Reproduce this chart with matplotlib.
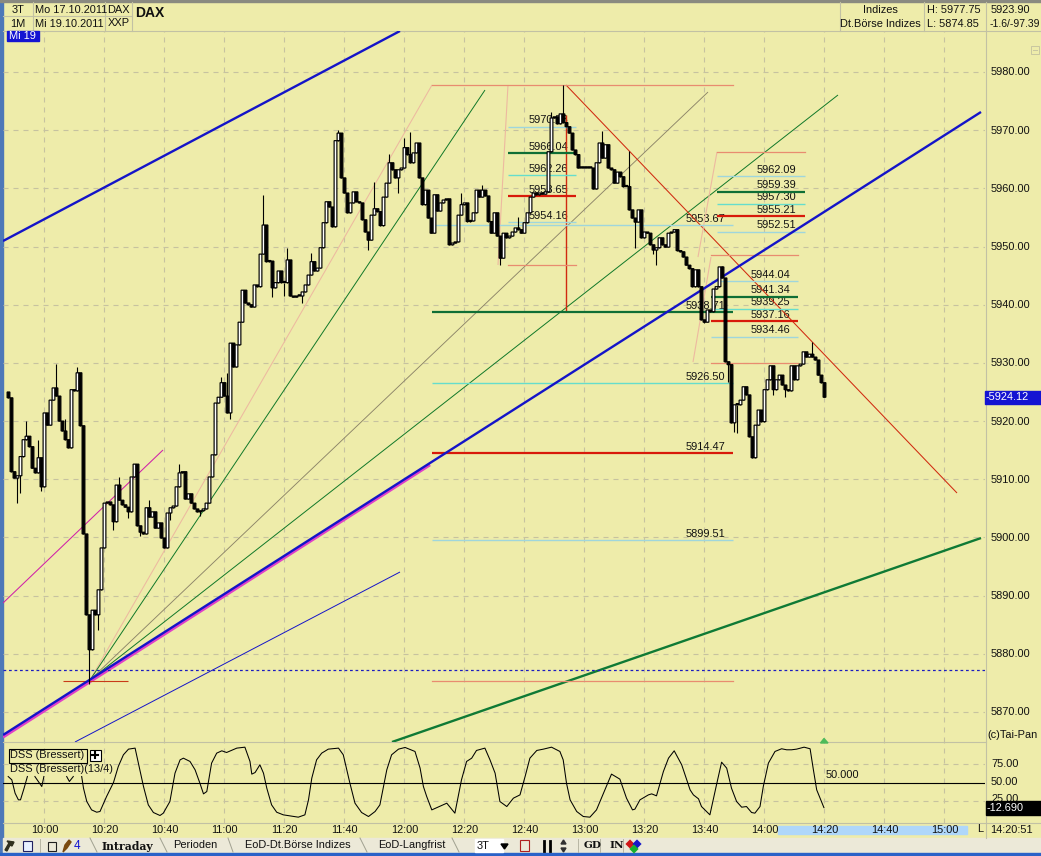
import numpy as np
import matplotlib
matplotlib.use("Agg")
import matplotlib.pyplot as plt
from matplotlib.patches import Rectangle, Polygon

plt.rcParams["font.family"] = ["Liberation Sans", "DejaVu Sans"]

W, H = 1041, 856
BG = "#EEECAA"
GRID = "#C6C2A0"
BAR = "#ECE9D8"

# one minute candles, minutes counted from 10:00, first candle is 09:48
first_minute = -12
first_open = 5925.0
closes = [
  5924.0,5911.3,5910.2,5910.6,5913.9,5916.8,5917.4,5915.6,5911.9,5911.1,
  5913.7,5908.7,5921.4,5919.3,5923.6,5925.7,5924.3,5920.0,5918.3,5916.8,
  5915.4,5925.4,5925.2,5928.3,5919.2,5900.6,5886.7,5880.7,5887.5,5886.7,
  5891.0,5898.2,5905.9,5906.1,5905.6,5902.7,5909.0,5906.4,5905.6,5905.2,
  5904.4,5910.4,5912.6,5902.0,5900.9,5900.6,5905.1,5903.5,5904.4,5901.6,
  5902.5,5899.9,5898.2,5904.2,5905.1,5905.4,5908.7,5911.1,5911.3,5906.6,
  5907.5,5905.9,5904.9,5904.4,5904.6,5904.9,5905.9,5910.4,5914.2,5923.1,
  5924.1,5926.6,5924.3,5921.4,5933.4,5929.3,5933.1,5937.0,5942.5,5940.3,
  5940.0,5939.6,5943.4,5943.1,5948.7,5953.7,5947.4,5947.5,5942.9,5943.8,
  5945.8,5943.8,5943.8,5947.7,5941.5,5941.3,5941.5,5941.5,5942.2,5943.4,
  5945.1,5947.4,5945.8,5946.3,5949.8,5954.1,5957.7,5956.8,5953.4,5968.2,
  5969.5,5961.8,5959.2,5955.8,5957.5,5959.4,5957.7,5957.5,5954.6,5952.5,
  5951.1,5955.4,5956.5,5956.0,5953.6,5958.5,5960.9,5964.4,5963.2,5961.8,
  5963.2,5963.5,5967.0,5965.8,5964.4,5966.1,5967.8,5961.8,5957.2,5959.7,
  5954.9,5952.3,5958.9,5956.1,5957.5,5958.0,5958.2,5950.3,5950.6,5950.8,
  5955.4,5957.2,5957.5,5954.3,5954.4,5955.8,5959.7,5958.5,5959.7,5958.7,
  5954.3,5952.3,5955.8,5951.8,5948.0,5952.3,5951.5,5951.8,5952.5,5953.2,
  5952.9,5952.3,5954.1,5955.8,5958.5,5959.2,5958.9,5959.2,5959.0,5959.4,
  5966.3,5972.1,5972.3,5971.1,5972.8,5971.3,5970.6,5969.5,5966.6,5965.8,
  5963.5,5963.5,5963.5,5963.5,5963.5,5959.9,5964.4,5967.8,5965.2,5967.5,
  5963.5,5963.2,5960.9,5962.8,5962.0,5960.3,5960.3,5956.3,5954.9,5954.2,
  5956.3,5951.5,5952.5,5952.3,5950.3,5949.4,5949.8,5951.5,5950.3,5949.9,
  5952.3,5952.5,5952.9,5949.3,5949.1,5948.2,5946.8,5946.2,5943.1,5946.0,
  5943.1,5937.4,5937.0,5939.1,5938.8,5942.7,5943.1,5946.5,5944.6,5930.2,
  5929.7,5919.7,5922.8,5922.8,5923.6,5925.9,5924.5,5917.3,5913.7,5919.3,
  5921.9,5919.9,5925.4,5927.1,5929.5,5925.4,5927.1,5927.9,5926.2,5925.4,
  5925.2,5929.5,5927.1,5929.5,5929.8,5931.9,5931.0,5931.5,5931.0,5930.5,
  5927.9,5926.6,5924.1,
]
# wicks that stick out of the body, minute -> price
wick_highs = {
  -6:5920.0, -2:5916.8, 4:5929.8, 7:5920.4, 11:5929.3, 25:5910.4, 35:5906.4,
  45:5912.6, 59:5927.6, 61:5928.3, 73:5958.9, 81:5949.8, 89:5948.9, 98:5970.0,
  110:5961.1, 115:5965.9, 120:5968.7, 122:5969.7, 139:5959.2, 146:5960.6,
  158:5955.1, 169:5973.1, 173:5977.75, 186:5969.9, 195:5966.4, 226:5946.7,
  256:5933.6,
}
wick_lows = {
  -9:5905.9, -8:5907.7, -1:5908.0, 15:5874.85, 18:5884.1, 23:5901.3, 28:5903.3,
  32:5900.3, 42:5903.0, 52:5903.7, 62:5920.4, 76:5941.3, 80:5941.5, 86:5940.3,
  108:5949.4, 118:5959.2, 152:5946.8, 197:5949.8, 203:5948.7, 204:5946.8,
  220:5936.9, 228:5926.7, 230:5918.1, 231:5918.0, 243:5924.5, 247:5924.2,
}

# DSS indicator, None = hidden behind the label boxes
dss_minutes = [
  -12.1,-10.9,-9.8,-8.7,-8,-6.8,-5.7,None,-3.2,-0.9,-0.2,None,7.4,8.3,9.6,None,
  12.4,13,14.1,15.7,17.4,18.5,20.7,23,24.6,26.3,28,30.2,31.3,33,34.6,36.3,38.5,
  39.6,41.8,43.5,45.2,46.3,48.5,50.2,51.8,53,54.1,55.7,57.4,59.1,60.7,64.1,66.8,
  68.5,69.1,70.2,71.8,73,74.1,75.7,77.4,79.6,81.8,84.6,86.8,88,89.1,90.7,92.4,
  94.6,98,99.6,101.8,103.5,105.7,108,110.2,111.8,114.1,115.7,118,120.2,123.5,
  125.2,126.3,127.4,129.1,134.1,136.8,139,140.7,142.4,144,146.8,148.5,150.2,
  151.8,154.1,156.3,158.5,160.2,161.8,164.1,166.3,169,171.8,172.9,174,175.2,
  177.4,179.6,181.8,184,186.8,189,191.8,194,196,196.8,198.5,201.3,202.4,204,
  206.3,208,209.9,212.4,215.2,216.3,218,219,221.8,224,225.7,227.4,229,230.7,
  232.4,234,235.7,236.8,238.5,239.6,241.3,243.5,245.7,247.4,249,250.7,253.2,
  255.2,256.3,257.4,259.8,
]
dss_values = [
  58.2,53.7,35.3,26.2,26.2,42.2,58.2,None,58.2,44.5,58.2,None,58.2,51.4,58.2,None,
  58.2,42.2,23.9,12.4,9.2,10.2,30.8,50,72,88,95.8,97.2,76.6,44.5,19.3,8.8,4.7,
  7.9,23.9,62.8,81.1,83.4,78.9,67.4,49.1,34.4,37.6,76.6,90.3,93.5,91.2,97.2,98.5,
  78.9,61.5,63.7,74.3,62.8,42.2,19.3,9.2,5.6,4.2,2.4,5.6,26.2,56,81.1,90.3,
  95.8,97.2,88,49.1,21.6,8.8,3.3,10.2,19.3,67.4,88,95.8,98.1,92.6,
  69.7,44.5,30.8,12.4,21.6,7.9,53.7,78.9,83.4,94,97.2,81.1,62.8,
  23.9,17,28.5,33,58.2,83.4,94,95.8,98.5,92.6,81.1,49.1,26.2,
  10.2,3.3,2.4,12.4,39.9,61.5,54.6,28.5,12.4,13.4,26.2,33,34.4,31.7,
  65.1,83.4,93.5,74.3,39.9,33,27.6,17,5.6,46.8,77.9,69.7,42.2,23.9,
  16.1,17,8.8,7.9,17,44.5,76.6,92.6,96.3,94.9,94.9,95.8,98.5,
  96.3,67.4,39.9,15.6,
]

# trend lines: minute, price, minute, price
top_channel = (-13.83, 5950.95, 118.5, 5987.05)
main_trend = (-13.83, 5866.04, 312.17, 5973.13)
main_trend_under = (-13.83, 5865.7, 128.5, 5912.5)
magenta_line = (-13.83, 5888.73, 39.5, 5915.03)
low_channel = (10.17, 5864.84, 118.5, 5894.06)
green_trend = (115.83, 5864.84, 312.17, 5899.9)
fan_pink = (15.17, 5875.5, 129.17, 5977.77)
fan_green_1 = (15.17, 5875.5, 146.83, 5976.9)
fan_grey = (15.17, 5875.5, 221.17, 5976.56)
fan_green_2 = (15.17, 5875.5, 264.5, 5976.05)
down_trend = (173.83, 5977.77, 304.17, 5907.64)
red_vertical = (173.83, 5972.6, 173.83, 5938.75)
pink_a = (154.5, 5977.77, 151.17, 5946.83)
pink_b = (224.17, 5966.25, 217.83, 5948.2)
pink_c = (222.17, 5948.2, 216.17, 5930.15)
low_mark = (6.17, 5875.4, 28.0, 5875.4)

low_dotted = 5877.3

# retracement levels
long_start, long_end, long_label = 129.17, 229.5, 213.8
long_top = 5977.75
long_bottom = 5875.4
long_levels = [5953.67, 5938.71, 5926.50, 5914.47, 5899.51]
long_kinds = ["blue", "green", "cyan", "red", "blue"]

a_start, a_end, a_label = 154.5, 177.17, 161.2
a_levels = [5970.53, 5966.04, 5962.26, 5958.65, 5954.16]
a_kinds = ["blue", "green", "cyan", "red", "blue"]
a_bottom = 5946.9

b_start, b_end, b_label = 224.17, 253.5, 237.5
b_levels = [5962.09, 5959.39, 5957.30, 5955.21, 5952.51]
b_kinds = ["blue", "green", "cyan", "red", "blue"]
b_top = 5966.25

c_start, c_end, c_label = 222.17, 251.2, 235.2
c_levels = [5944.04, 5941.34, 5939.25, 5937.16, 5934.46]
c_kinds = ["blue", "green", "cyan", "red", "blue"]
c_top = 5948.5
c_bottom = 5930.0

time_ticks = list(range(0, 301, 20))
time_labels = ["10:00","10:20","10:40","11:00","11:20","11:40","12:00","12:20",
               "12:40","13:00","13:20","13:40","14:00","14:20","14:40","15:00"]
price_ticks = list(range(5870, 5981, 10))
dss_ticks = [25, 50, 75]

level_style = {
  "blue": ("#9FD6DC", 1.0),
  "cyan": ("#66DDCC", 1.0),
  "green": ("#0F6E35", 1.6),
  "red": ("#D81A0A", 1.6),
  "salmon": ("#E88C70", 0.9),
}


def px_box(left, top, right, bottom):
  # figure fractions for a box given in screen pixels
  return [left / W, 1 - bottom / H, (right - left) / W, (bottom - top) / H]


def draw_line(ax, seg, color, lw, z=3):
  ax.plot([seg[0], seg[2]], [seg[1], seg[3]], color=color, lw=lw, zorder=z,
          solid_capstyle="butt")


def draw_levels(ax, start, end, label_at, levels, kinds):
  for price, kind in zip(levels, kinds):
    color, lw = level_style[kind]
    ax.plot([start, end], [price, price], color=color, lw=lw, zorder=3,
            solid_capstyle="butt")
    ax.annotate("%.2f" % price, (label_at, price), xytext=(0, 1.2),
                textcoords="offset points", fontsize=7.9, color="#111111",
                va="bottom", ha="left", zorder=2)


def main():
  fig = plt.figure(figsize=(W / 100, H / 100), dpi=100, facecolor=BG)

  # window frame and header, in screen pixels
  chrome = fig.add_axes([0, 0, 1, 1], zorder=0)
  chrome.set_xlim(0, W)
  chrome.set_ylim(H, 0)
  chrome.axis("off")
  chrome.add_patch(Rectangle((0, 0), 2.5, H, color="#4D78B8"))
  chrome.add_patch(Rectangle((0, 0), W, 1.5, color="#8A8A80"))
  chrome.add_patch(Rectangle((3, 838), W, 15, color=BAR))
  chrome.add_patch(Rectangle((0, 853), W, 3, color="#2A62C8"))
  frame = "#C2C1A4"
  chrome.plot([3, W], [30.5, 30.5], color=frame, lw=0.8)
  chrome.plot([3, 132], [16, 16], color=frame, lw=0.8)
  for x in [33, 104.5, 132, 840, 924]:
    chrome.plot([x, x], [1.5, 30.5], color=frame, lw=0.8)
  chrome.plot([986, 986], [1.5, 838], color=frame, lw=0.8)
  chrome.plot([3, 986], [742, 742], color=frame, lw=0.8)
  chrome.plot([3, W], [823, 823], color=frame, lw=0.8)

  def put(x, y, s, size=7.9, ha="left", **kw):
    chrome.text(x, y, s, fontsize=size, ha=ha, va="center", color=kw.pop("color", "#111111"), **kw)

  put(18, 10, "3T", ha="center")
  put(18, 24, "1M", ha="center")
  put(35, 10, "Mo 17.10.2011")
  put(35, 24, "Mi 19.10.2011")
  put(107, 9.5, "DAX")
  put(108, 23, "XXP")
  put(135, 13, "DAX", size=10, fontweight="bold")
  put(880, 9.5, "Indizes", ha="center")
  put(880, 23.5, "Dt.Börse Indizes", ha="center")
  put(927, 9.5, "H: 5977.75")
  put(927, 23.5, "L: 5874.85")
  put(991, 9.5, "5923.90")
  put(990, 23.5, "-1.6/-97.39", size=7.5)
  chrome.add_patch(Rectangle((7, 31), 32, 10, color="#1414D2", zorder=6))
  put(9, 36, "Mi 19", color="white", zorder=7)
  chrome.add_patch(Rectangle((1031, 46), 8, 8, fill=False, ec="#C8C6A0", lw=0.7))
  chrome.plot([1033, 1037], [50, 50], color="#C8C6A0", lw=0.7)

  for t in price_ticks:
    put(991, (5992.375 - t) / 0.17188 + 0.5, "%.2f" % t)
  put(987, 735, "(c)Tai-Pan")
  for t, y in zip(dss_ticks, [799, 782, 764]):
    put(991, y, "%.2f" % t)
  chrome.add_patch(Rectangle((985, 390.5), 56, 13, color="#1414D2", zorder=6))
  put(986, 397, "-5924.12", color="white", zorder=7)
  chrome.add_patch(Rectangle((986, 801), 55, 14, color="black", zorder=6))
  put(987, 808, "-12.690", color="white", zorder=7)

  # time axis
  chrome.add_patch(Rectangle((778, 826), 189, 8, color="#AFD7FA"))
  for t, label in zip(time_ticks, time_labels):
    put(44.5 + 3 * t, 830, label, ha="center")
  put(977, 829.5, "L")
  put(990, 830, "14:20:51")

  # tab bar
  put(102, 846, "Intraday", size=7.8, fontweight="bold", family="DejaVu Serif")
  put(173, 845.5, "Perioden")
  put(245, 845.5, "EoD-Dt.Börse Indizes")
  put(378, 845.5, "EoD-Langfrist")
  for x0, x1 in [(90, 97), (160, 167), (228, 233), (360, 367), (452, 459)]:
    chrome.plot([x0, x1], [838, 852], color="#A0A090", lw=0.7)
  for x in [40, 578, 600, 623]:
    chrome.plot([x, x], [839, 852], color="#B8B6A4", lw=0.7)
  put(74, 846, "4", size=8.5, color="#1414D2")
  chrome.add_patch(Polygon([[5, 850], [9, 843], [7, 841], [14, 842], [12, 846], [10, 845], [7, 851]], color="#303020"))
  chrome.add_patch(Rectangle((23, 841), 9, 10, fc="#E8F0FF", ec="#202060", lw=0.8))
  chrome.add_patch(Rectangle((48, 842), 8, 9, fc=BAR, ec="#202020", lw=0.8))
  chrome.add_patch(Polygon([[63, 852], [65, 845], [69, 840], [71, 842], [67, 848]], color="#7A4A10"))
  chrome.add_patch(Rectangle((475, 839), 28, 13, color="white"))
  put(477, 846, "3T")
  chrome.add_patch(Polygon([[501, 844], [508, 844], [504.5, 849]], color="black"))
  chrome.add_patch(Rectangle((520, 840), 9, 11, fc=BAR, ec="#B02020", lw=0.8))
  chrome.plot([544, 544], [841, 851], color="black", lw=2)
  chrome.plot([550, 550], [841, 851], color="black", lw=2)
  chrome.add_patch(Polygon([[561, 844], [566, 844], [563.5, 840]], color="#303030"))
  chrome.add_patch(Polygon([[561, 848], [566, 848], [563.5, 852]], color="#303030"))
  put(584, 846, "GD", size=7.5, fontweight="bold", family="DejaVu Serif")
  put(609, 846, "IN", size=7.5, fontweight="bold", family="DejaVu Serif")
  chrome.scatter([630, 637, 634], [844, 844, 849], s=22, c=["#D01818", "#1818C8", "#18B030"], marker="D", lw=0)

  # price panel
  ax = fig.add_axes(px_box(3, 31, 985, 742), zorder=1)
  ax.patch.set_alpha(0)
  ax.set_xlim(-13.83, 313.5)
  ax.set_ylim(5864.84, 5987.05)
  for s in ax.spines.values():
    s.set_visible(False)
  ax.tick_params(left=False, bottom=False, labelleft=False, labelbottom=False)
  ax.set_xticks(time_ticks)
  ax.set_yticks(price_ticks)
  ax.grid(True, color=GRID, lw=0.8, linestyle=(0, (4.5, 4.5)), zorder=0)
  ax.set_axisbelow(True)

  # trend lines
  draw_line(ax, main_trend_under, "#E040C8", 2.3, z=3)
  draw_line(ax, top_channel, "#1414C8", 1.7)
  draw_line(ax, main_trend, "#1414C8", 1.7, z=3.2)
  draw_line(ax, magenta_line, "#D020A8", 0.75)
  draw_line(ax, low_channel, "#1414C8", 0.7)
  draw_line(ax, green_trend, "#0F7A35", 1.7)
  draw_line(ax, fan_pink, "#EDB9A0", 0.75)
  draw_line(ax, fan_green_1, "#107828", 0.7)
  draw_line(ax, fan_grey, "#8C8468", 0.65)
  draw_line(ax, fan_green_2, "#107828", 0.7)
  draw_line(ax, down_trend, "#D02A10", 0.75)
  draw_line(ax, red_vertical, "#D02A10", 1.0)
  draw_line(ax, pink_a, "#EDB9A0", 0.8)
  draw_line(ax, pink_b, "#EDB9A0", 0.8)
  draw_line(ax, pink_c, "#EDB9A0", 0.8)
  draw_line(ax, low_mark, "#C83A18", 0.8)
  ax.axhline(low_dotted, color="#1C1CC0", lw=0.9, linestyle=(0, (2.2, 2.2)), zorder=3)

  # retracements
  salmon, salmon_lw = level_style["salmon"]
  ax.plot([long_start, long_end], [long_top, long_top], color=salmon, lw=salmon_lw, zorder=3)
  ax.plot([long_start, long_end], [long_bottom, long_bottom], color=salmon, lw=salmon_lw, zorder=3)
  ax.plot([a_start, a_end], [a_bottom, a_bottom], color=salmon, lw=salmon_lw, zorder=3)
  ax.plot([b_start, b_end], [b_top, b_top], color=salmon, lw=salmon_lw, zorder=3)
  ax.plot([c_start, c_end], [c_top, c_top], color=salmon, lw=salmon_lw, zorder=3)
  ax.plot([c_start, c_end], [c_bottom, c_bottom], color=salmon, lw=salmon_lw, zorder=3)
  draw_levels(ax, long_start, long_end, long_label, long_levels, long_kinds)
  draw_levels(ax, a_start, a_end, a_label, a_levels, a_kinds)
  draw_levels(ax, b_start, b_end, b_label, b_levels, b_kinds)
  draw_levels(ax, c_start, c_end, c_label, c_levels, c_kinds)

  # candles
  minutes = np.arange(len(closes)) + first_minute
  opens = [first_open] + closes[:-1]
  for m, o, c in zip(minutes, opens, closes):
    m = int(m)
    body_top, body_low = max(o, c), min(o, c)
    high = wick_highs.get(m, body_top)
    low = wick_lows.get(m, body_low)
    ax.plot([m, m], [low, high], color="black", lw=0.8, zorder=4, solid_capstyle="butt")
    ax.add_patch(Rectangle((m - 0.46, body_low), 0.92, max(body_top - body_low, 0.2),
                           fc="white" if c > o else "black", ec="black", lw=0.85,
                           zorder=5, snap=False))

  # DSS panel
  ax2 = fig.add_axes(px_box(3, 742, 985, 823), zorder=1)
  ax2.patch.set_alpha(0)
  ax2.set_xlim(-13.83, 313.5)
  ax2.set_ylim(-5.6, 105.6)
  for s in ax2.spines.values():
    s.set_visible(False)
  ax2.tick_params(left=False, bottom=False, labelleft=False, labelbottom=False)
  ax2.set_xticks(time_ticks)
  ax2.set_yticks(dss_ticks)
  ax2.grid(True, color=GRID, lw=0.8, linestyle=(0, (4.5, 4.5)), zorder=0)
  ax2.set_axisbelow(True)
  ax2.axhline(50, color="black", lw=0.8, zorder=2)
  dss_x = np.array([np.nan if v is None else v for v in dss_minutes], dtype=float)
  dss_y = np.array([np.nan if v is None else v for v in dss_values], dtype=float)
  ax2.plot(dss_x, dss_y, color="black", lw=0.75, zorder=3)
  ax2.annotate("50.000", (260.5, 50), xytext=(0, 1.5), textcoords="offset points",
               fontsize=7.9, va="bottom", color="#111111")

  # label boxes over the indicator
  top = fig.add_axes([0, 0, 1, 1], zorder=3)
  top.set_xlim(0, W)
  top.set_ylim(H, 0)
  top.axis("off")
  top.patch.set_alpha(0)
  top.add_patch(Rectangle((8.5, 748.5), 78, 14, fc=BG, ec="black", lw=0.8))
  top.text(10.5, 755.5, "DSS (Bressert)", fontsize=7.9, va="center", color="#111111")
  top.add_patch(Rectangle((89.5, 749.5), 11, 11, fc="white", ec="black", lw=0.8))
  top.plot([92, 98], [755, 755], color="black", lw=1.5)
  top.plot([95, 95], [752, 758], color="black", lw=1.5)
  top.text(10.5, 769, "DSS (Bressert)(13/4)", fontsize=7.9, va="center", color="#111111")
  top.add_patch(Polygon([[820.5, 743], [828, 743], [824, 738.5]], color="#4DBB5A"))

  fig.savefig("out.png", dpi=100, facecolor=BG)


if __name__ == "__main__":
  main()
